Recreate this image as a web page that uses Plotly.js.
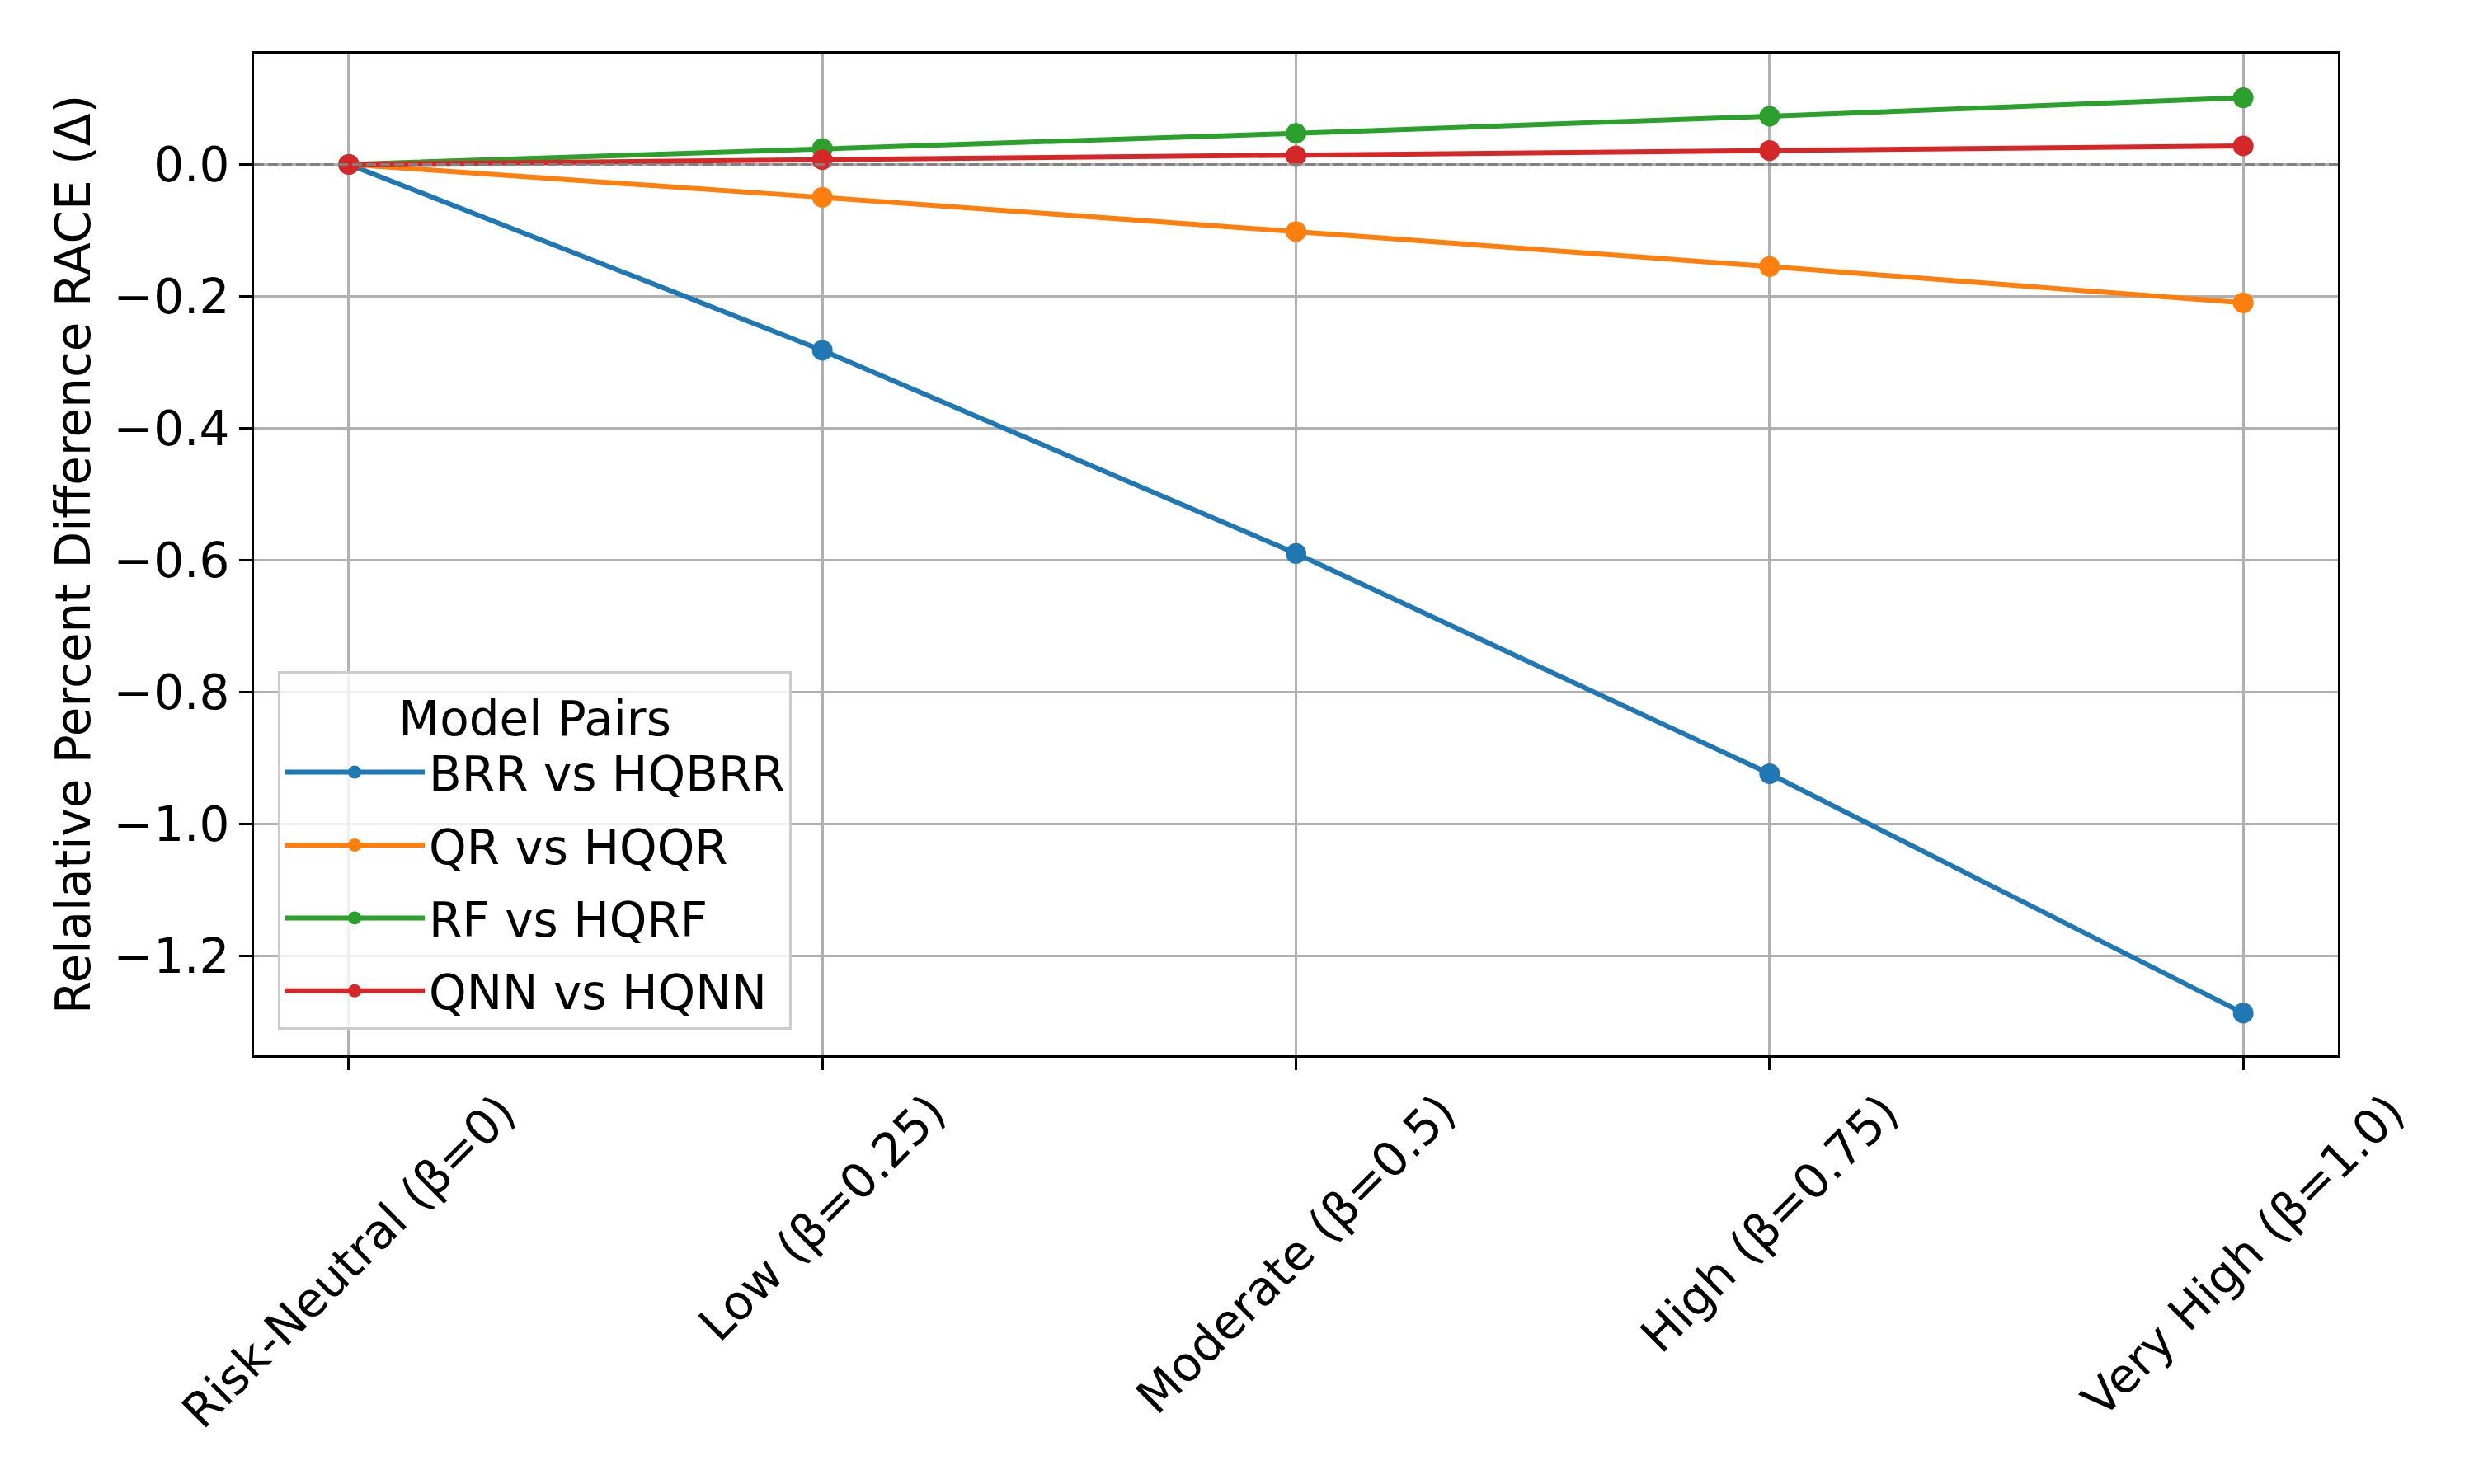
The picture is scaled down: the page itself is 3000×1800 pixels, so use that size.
<!DOCTYPE html>
<html>
<head>
<meta charset="utf-8">
<script src="https://cdn.plot.ly/plotly-3.0.1.min.js"></script>
<style>
  html, body { margin: 0; padding: 0; background: #fff; }
  #chart { width: 3000px; height: 1800px; }
</style>
</head>
<body>
<div id="chart"></div>
<script>
// risk levels on the x axis
const riskLevels = ['Risk-Neutral (β=0)', 'Low (β=0.25)', 'Moderate (β=0.5)', 'High (β=0.75)', 'Very High (β=1.0)']

// relative percent difference per model pair
const brrVsHqbrr = [0, -0.282, -0.590, -0.924, -1.287]
const qrVsHqqr = [0, -0.050, -0.102, -0.155, -0.210]
const rfVsHqrf = [0, 0.024, 0.047, 0.073, 0.101]
const qnnVsHqnn = [0, 0.007, 0.013, 0.021, 0.028]

const pairNames = ['BRR vs HQBRR', 'QR vs HQQR', 'RF vs HQRF', 'QNN vs HQNN']
const pairColors = ['#1f77b4', '#ff7f0e', '#2ca02c', '#d62728']
const yTicks = [0, -0.2, -0.4, -0.6, -0.8, -1.0, -1.2]

document.addEventListener('DOMContentLoaded', () => {
    let series = [brrVsHqbrr, qrVsHqqr, rfVsHqrf, qnnVsHqnn]

    let traces = series.map((y, i) => ({
        x: riskLevels,
        y: y,
        type: 'scatter',
        mode: 'lines+markers',
        name: pairNames[i],
        legendgroup: 'g' + i,
        line: {color: pairColors[i], width: 6},
        marker: {color: pairColors[i], size: 25}
    }))

    let font = {family: 'DejaVu Sans', size: 58, color: '#000'}

    // rotated category labels, centred under each tick like matplotlib does
    let tickLabels = riskLevels.map(label => ({
        x: label,
        xref: 'x',
        y: -0.026,
        yref: 'paper',
        text: label,
        textangle: -45,
        xanchor: 'center',
        yanchor: 'top',
        showarrow: false,
        font: font
    }))

    let layout = {
        width: 3000,
        height: 1800,
        margin: {l: 308, r: 165, t: 65, b: 520},
        paper_bgcolor: '#fff',
        plot_bgcolor: '#fff',
        font: font,
        showlegend: true,
        legend: {
            x: 0.0115,
            y: 0.0255,
            xanchor: 'left',
            yanchor: 'bottom',
            bgcolor: 'rgba(255,255,255,0.8)',
            bordercolor: '#cccccc',
            borderwidth: 3,
            font: font,
            itemwidth: 170,
            tracegroupgap: 10,
            title: {text: 'Model Pairs', side: 'top center', font: font}
        },
        xaxis: {
            type: 'category',
            range: [-0.2, 4.2],
            showticklabels: false,
            ticks: 'outside',
            ticklen: 15,
            tickwidth: 3,
            tickcolor: '#000',
            showline: true,
            linecolor: '#000',
            linewidth: 3,
            mirror: true,
            showgrid: true,
            gridcolor: '#b0b0b0',
            gridwidth: 3,
            zeroline: false
        },
        yaxis: {
            range: [-1.351, 0.168],
            tickvals: yTicks,
            tickformat: '.1f',
            tickfont: font,
            ticks: 'outside',
            ticklen: 15,
            tickwidth: 3,
            tickcolor: '#000',
            showline: true,
            linecolor: '#000',
            linewidth: 3,
            mirror: true,
            showgrid: true,
            gridcolor: '#b0b0b0',
            gridwidth: 3,
            zeroline: false,
            title: {text: 'Relalative Percent Difference RACE (Δ)', font: font, standoff: 10}
        },
        annotations: tickLabels,
        shapes: [{
            type: 'line',
            xref: 'paper',
            x0: 0,
            x1: 1,
            yref: 'y',
            y0: 0,
            y1: 0,
            layer: 'above',
            line: {color: 'gray', width: 3, dash: '12px,5px'}
        }]
    }

    Plotly.newPlot('chart', traces, layout, {staticPlot: true})
})
</script>
</body>
</html>
